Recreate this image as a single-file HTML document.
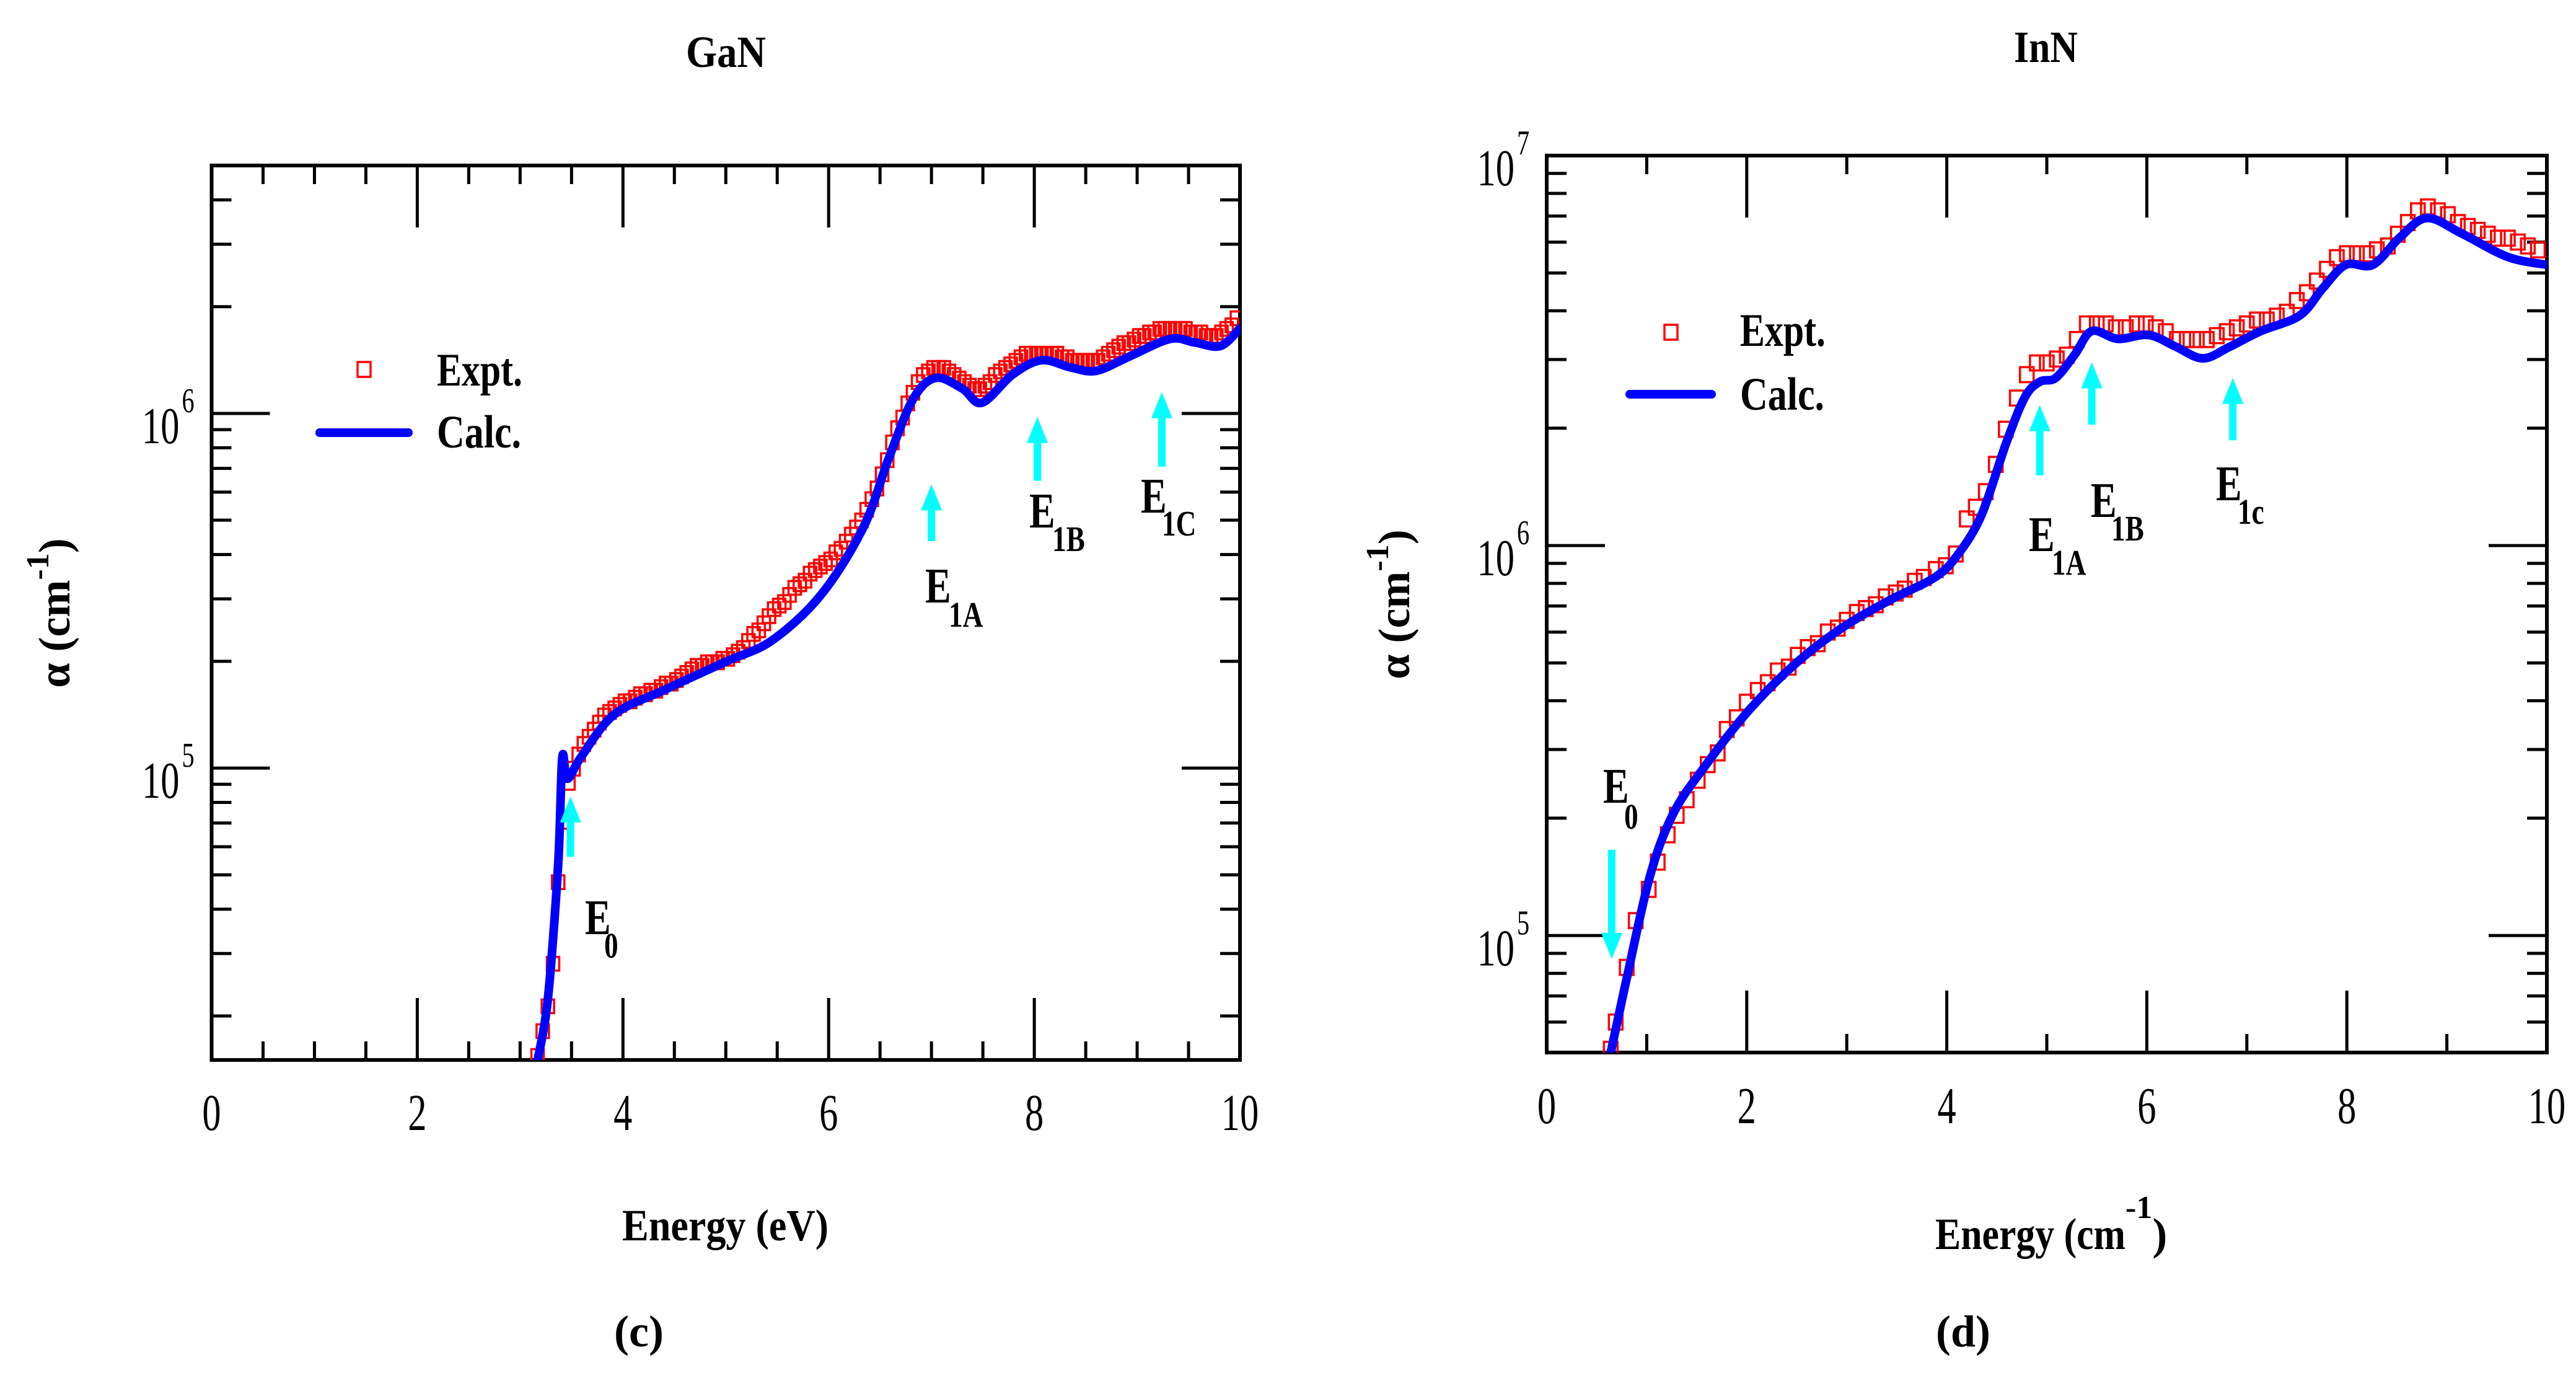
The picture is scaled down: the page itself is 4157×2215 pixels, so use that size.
<!DOCTYPE html>
<html><head><meta charset="utf-8"><style>
html,body{margin:0;padding:0;background:#fff;}
svg{display:block;}
text{font-family:"Liberation Serif",serif;}
</style></head><body>
<svg id="fig" width="4157" height="2215" viewBox="0 0 4157 2215" xmlns="http://www.w3.org/2000/svg">
<rect x="0" y="0" width="4157" height="2215" fill="#fff"/>
<defs>
<clipPath id="clipGaN"><rect x="341.5" y="267" width="1659.5" height="1443"/></clipPath>
<clipPath id="clipInN"><rect x="2496" y="251" width="1614" height="1447"/></clipPath>
</defs>
<g id="gan"></g>
<g id="inn"></g>
</svg>
<script>
// ---------- GaN data (x: eV, y: log10 alpha) ----------
const ganCalcX = [3.17,3.27,3.37,3.41,3.46,3.59,3.91,4.40,5.0,5.45,5.93,6.34,6.58,6.82,7.04,7.30,7.49,7.79,8.07,8.35,8.60,8.92,9.32,9.56,9.81,10.0];
const ganCalcY = [4.176,4.35,4.73,5.03,4.97,5.03,5.15,5.22,5.30,5.36,5.49,5.68,5.87,6.04,6.10,6.07,6.03,6.11,6.15,6.13,6.12,6.16,6.21,6.20,6.19,6.24];
const ganExpX = [3.17,3.22,3.27,3.32,3.37,3.42,3.47,3.52,3.57,3.62,3.67,3.72,3.77,3.82,3.87,3.92,3.97,4.02,4.07,4.12,4.17,4.22,4.27,4.32,4.37,4.42,4.47,4.52,4.57,4.62,4.67,4.72,4.77,4.82,4.87,4.92,4.97,5.02,5.07,5.12,5.17,5.22,5.27,5.32,5.37,5.42,5.47,5.52,5.57,5.62,5.67,5.72,5.77,5.82,5.87,5.92,5.97,6.02,6.07,6.12,6.17,6.22,6.27,6.32,6.37,6.42,6.47,6.52,6.57,6.62,6.67,6.72,6.77,6.82,6.87,6.92,6.97,7.02,7.07,7.12,7.17,7.22,7.27,7.32,7.37,7.42,7.47,7.52,7.57,7.62,7.67,7.72,7.77,7.82,7.87,7.92,7.97,8.02,8.07,8.12,8.17,8.22,8.27,8.32,8.37,8.42,8.47,8.52,8.57,8.62,8.67,8.72,8.77,8.82,8.87,8.92,8.97,9.02,9.07,9.12,9.17,9.22,9.27,9.32,9.37,9.42,9.47,9.52,9.57,9.62,9.67,9.72,9.77,9.82,9.87,9.92,9.97];
const ganExpY = [4.19,4.26,4.33,4.45,4.68,4.85,4.96,5.00,5.04,5.07,5.09,5.11,5.13,5.15,5.16,5.17,5.18,5.19,5.19,5.20,5.21,5.21,5.22,5.22,5.23,5.24,5.24,5.25,5.26,5.27,5.28,5.29,5.29,5.30,5.30,5.30,5.31,5.31,5.32,5.33,5.34,5.36,5.38,5.39,5.41,5.43,5.45,5.46,5.47,5.49,5.51,5.52,5.53,5.55,5.56,5.57,5.58,5.59,5.61,5.62,5.64,5.66,5.68,5.70,5.73,5.76,5.79,5.83,5.87,5.92,5.96,5.99,6.03,6.06,6.09,6.11,6.12,6.13,6.13,6.13,6.12,6.11,6.10,6.09,6.08,6.07,6.07,6.08,6.09,6.11,6.12,6.13,6.14,6.15,6.16,6.17,6.17,6.17,6.17,6.17,6.17,6.17,6.16,6.16,6.15,6.15,6.15,6.15,6.15,6.15,6.16,6.17,6.18,6.19,6.20,6.20,6.21,6.22,6.22,6.23,6.23,6.24,6.24,6.24,6.24,6.24,6.24,6.23,6.23,6.23,6.22,6.22,6.22,6.23,6.24,6.25,6.27];
// ---------- InN data ----------
const innCalcX = [0.64,0.80,1.03,1.26,1.57,2.03,2.50,2.96,3.43,3.89,4.12,4.35,4.59,4.78,4.93,5.09,5.28,5.45,5.71,6.02,6.29,6.56,6.83,7.14,7.53,7.76,7.99,8.26,8.53,8.80,9.15,9.61,10.0];
const innCalcY = [4.70,4.89,5.15,5.31,5.43,5.58,5.70,5.79,5.86,5.92,5.98,6.08,6.26,6.38,6.42,6.43,6.49,6.55,6.53,6.54,6.51,6.48,6.51,6.55,6.59,6.66,6.72,6.72,6.79,6.84,6.80,6.74,6.72];
const innExpX = [0.64,0.69,0.80,0.89,1.02,1.11,1.21,1.30,1.40,1.51,1.61,1.71,1.80,1.90,2.00,2.11,2.21,2.31,2.42,2.51,2.61,2.71,2.81,2.91,3.00,3.10,3.19,3.29,3.39,3.49,3.58,3.68,3.77,3.89,3.99,4.09,4.20,4.29,4.39,4.49,4.59,4.70,4.80,4.90,5.00,5.10,5.20,5.30,5.40,5.50,5.59,5.69,5.79,5.90,5.99,6.09,6.19,6.30,6.40,6.50,6.60,6.70,6.80,6.90,7.00,7.10,7.20,7.30,7.40,7.50,7.60,7.70,7.80,7.90,8.00,8.10,8.20,8.30,8.41,8.51,8.61,8.71,8.81,8.91,9.01,9.11,9.21,9.31,9.41,9.51,9.61,9.71,9.81,9.91];
const innExpY = [4.71,4.78,4.92,5.04,5.12,5.19,5.26,5.31,5.35,5.40,5.44,5.47,5.53,5.56,5.60,5.63,5.65,5.68,5.69,5.72,5.74,5.75,5.78,5.79,5.81,5.83,5.84,5.85,5.87,5.88,5.89,5.91,5.92,5.94,5.95,5.98,6.07,6.10,6.14,6.21,6.30,6.38,6.44,6.47,6.47,6.48,6.49,6.53,6.57,6.57,6.57,6.56,6.56,6.57,6.57,6.56,6.55,6.53,6.53,6.53,6.53,6.54,6.55,6.56,6.57,6.58,6.58,6.59,6.60,6.63,6.65,6.68,6.71,6.74,6.75,6.75,6.75,6.76,6.77,6.80,6.83,6.86,6.87,6.86,6.85,6.83,6.82,6.81,6.80,6.79,6.79,6.78,6.77,6.76];
// arrows: x position (eV) and tip/tail in log10 alpha
const ganArrowX = [3.49,7.0,8.03,9.24];
const ganArrowTip = [4.92,5.80,5.99,6.06];
const ganArrowTail = [4.75,5.64,5.81,5.85];
const ganArrowSubs = ['0','1A','1B','1C'];
const innArrowX = [0.65,4.93,5.45,6.86];
const innArrowTip = [4.94,6.36,6.47,6.43];
const innArrowTail = [5.22,6.18,6.31,6.27];
const innArrowSubs = ['0','1A','1B','1c'];

const NS = 'http://www.w3.org/2000/svg';
function mk(tag, attrs, parent){ const e=document.createElementNS(NS,tag); for(const k in attrs) e.setAttribute(k,attrs[k]); if(parent) parent.appendChild(e); return e; }

function makeAxes(cfg){
  const sx = v => cfg.x0 + (v-cfg.xmin)/(cfg.xmax-cfg.xmin)*(cfg.x1-cfg.x0);
  const sy = l => cfg.y1 - (l-cfg.lmin)/(cfg.lmax-cfg.lmin)*(cfg.y1-cfg.y0);
  return {sx, sy};
}

function smoothPath(P){
  let d = 'M'+P[0][0].toFixed(1)+','+P[0][1].toFixed(1);
  for(let i=0;i<P.length-1;i++){
    const p0=P[Math.max(0,i-1)], p1=P[i], p2=P[i+1], p3=P[Math.min(P.length-1,i+2)];
    const c1=[p1[0]+(p2[0]-p0[0])/6, p1[1]+(p2[1]-p0[1])/6];
    const c2=[p2[0]-(p3[0]-p1[0])/6, p2[1]-(p3[1]-p1[1])/6];
    d += 'C'+c1[0].toFixed(1)+','+c1[1].toFixed(1)+' '+c2[0].toFixed(1)+','+c2[1].toFixed(1)+' '+p2[0].toFixed(1)+','+p2[1].toFixed(1);
  }
  return d;
}

function drawPanel(g, cfg, calcX, calcY, expX, expY, arrX, arrTip, arrTail, subs, labels){
  const {sx, sy} = makeAxes(cfg);
  const frame = mk('rect',{x:cfg.x0,y:cfg.y0,width:cfg.x1-cfg.x0,height:cfg.y1-cfg.y0,fill:'none',stroke:'#000','stroke-width':6},g);
  
  
  for(let v=cfg.xmin; v<=cfg.xmax+1e-9; v+=cfg.minorStep){
    const isMaj = Math.abs(v/2-Math.round(v/2))<1e-6;
    const len = isMaj?100:30;
    const X = sx(v);
    if(v>cfg.xmin+1e-6 && v<cfg.xmax-1e-6){
      const t1 = mk('line',{x1:X,y1:cfg.y1,x2:X,y2:cfg.y1-len,stroke:'#000','stroke-width':5},g);
      
      
      const t2 = mk('line',{x1:X,y1:cfg.y0,x2:X,y2:cfg.y0+len,stroke:'#000','stroke-width':5},g);
      
      
    }
    if(isMaj){
      const tl = mk('text',{transform:`translate(${X},${cfg.xLabY}) scale(0.72,1)`,'text-anchor':'middle','font-size':84,fill:'#000'},g);
      tl.textContent = String(Math.round(v));
      
      
    }
  }
  for(let d=Math.floor(cfg.lmin); d<=Math.ceil(cfg.lmax); d++){
    for(let m=1; m<=9; m++){
      const l = d + Math.log10(m);
      if(l<cfg.lmin+1e-4 || l>cfg.lmax-1e-4) continue;
      const Y = sy(l);
      const len = m===1?94:32;
      const a = mk('line',{x1:cfg.x0,y1:Y,x2:cfg.x0+len,y2:Y,stroke:'#000','stroke-width':5},g);
      
      
      const b = mk('line',{x1:cfg.x1,y1:Y,x2:cfg.x1-len,y2:Y,stroke:'#000','stroke-width':5},g);
      
      
    }
  }
  for(let d=Math.ceil(cfg.lmin-1e-6); d<=Math.floor(cfg.lmax+1e-6); d++){
    const Y = sy(d);
    const t = mk('text',{transform:`translate(${cfg.x0-52},${Y+48}) scale(0.72,1)`,'text-anchor':'end','font-size':84,fill:'#000'},g);
    t.textContent='10';
    
    
    const s = mk('text',{transform:`translate(${cfg.x0-48},${Y-2}) scale(0.72,1)`,'text-anchor':'start','font-size':56,fill:'#000'},g);
    s.textContent=String(d);
    
    
  }
  const dg = mk('g',{'clip-path':`url(#${cfg.clip})`},g);
  const eg = mk('g',{},dg);
  
  
  for(let i=0;i<expX.length;i++){
    const r = mk('rect',{x:sx(expX[i])-cfg.sq/2,y:sy(expY[i])-cfg.sq/2,width:cfg.sq,height:cfg.sq*1.1,fill:'none',stroke:'#ff0000','stroke-width':3.5},eg);
    
    
  }
  const pts = calcX.map((x,i)=>[sx(x), sy(calcY[i])]);
  const cl = mk('path',{d:smoothPath(pts),fill:'none',stroke:'#0000ff','stroke-width':14,'stroke-linejoin':'round','stroke-linecap':'round'},dg);
  
  
  for(let i=0;i<arrX.length;i++){
    const X = sx(arrX[i]), tip = sy(arrTip[i]), tail = sy(arrTail[i]);
    const dir = tail>tip ? 1 : -1;
    const hb = tip + dir*42;
    const ag = mk('g',{},g);
    
    
    mk('line',{x1:X,y1:tail,x2:X,y2:hb,stroke:'#00ffff','stroke-width':12},ag);
    mk('polygon',{points:`${X},${tip} ${X-17},${hb} ${X+17},${hb}`,fill:'#00ffff'},ag);
  }
  labels.forEach((L,i)=>{
    const t = mk('text',{transform:`translate(${L[0]},${L[1]}) scale(0.78,1)`,'font-size':80,'font-weight':'bold',fill:'#000'},g);
    t.textContent='E';
    
    
    const s = mk('text',{transform:`translate(${L[2]},${L[3]}) scale(0.78,1)`,'font-size':58,'font-weight':'bold',fill:'#000'},g);
    s.textContent=subs[i];
    
    
  });
}

const gan = document.getElementById('gan');
drawPanel(gan,{x0:341.5,x1:2001,y0:267,y1:1710,xmin:0,xmax:10,lmin:4.177,lmax:6.699,minorStep:0.5,xLabY:1823,clip:'clipGaN',sq:20},
  ganCalcX,ganCalcY,ganExpX,ganExpY,ganArrowX,ganArrowTip,ganArrowTail,ganArrowSubs,
  [[944,1507,975,1545],[1493,972,1531,1011],[1661,851,1698,889],[1841,827,1875,864]]);
const inn = document.getElementById('inn');
drawPanel(inn,{x0:2496,x1:4110,y0:251,y1:1698,xmin:0,xmax:10,lmin:4.70,lmax:7.0,minorStep:1,xLabY:1812,clip:'clipInN',sq:22},
  innCalcX,innCalcY,innExpX,innExpY,innArrowX,innArrowTip,innArrowTail,innArrowSubs,
  [[2587,1295,2621,1337],[3274,889,3311,927],[3374,834,3407,872],[3576,807,3611,845]]);
</script>
<svg style="position:absolute;left:0;top:0" width="4157" height="2215" viewBox="0 0 4157 2215" xmlns="http://www.w3.org/2000/svg">
<text x="1107" y="108" font-size="72" font-weight="bold" textLength="129" lengthAdjust="spacingAndGlyphs">GaN</text>
<text x="3250" y="100" font-size="72" font-weight="bold" textLength="103" lengthAdjust="spacingAndGlyphs">InN</text>
<rect x="577" y="584" width="21" height="24" fill="none" stroke="#ff0000" stroke-width="3.5"/>
<text x="705" y="622" font-size="75" font-weight="bold" textLength="138" lengthAdjust="spacingAndGlyphs">Expt.</text>
<line x1="516" y1="698" x2="659" y2="698" stroke="#0000ff" stroke-width="14" stroke-linecap="round"/>
<text x="705" y="722" font-size="75" font-weight="bold" textLength="136" lengthAdjust="spacingAndGlyphs">Calc.</text>
<rect x="2686" y="524" width="21" height="24" fill="none" stroke="#ff0000" stroke-width="3.5"/>
<text x="2808" y="558" font-size="75" font-weight="bold" textLength="138" lengthAdjust="spacingAndGlyphs">Expt.</text>
<line x1="2630" y1="636" x2="2762" y2="636" stroke="#0000ff" stroke-width="14" stroke-linecap="round"/>
<text x="2808" y="661" font-size="75" font-weight="bold" textLength="136" lengthAdjust="spacingAndGlyphs">Calc.</text>
<text x="1004" y="2001" font-size="72" font-weight="bold" textLength="333" lengthAdjust="spacingAndGlyphs">Energy (eV)</text>
<text x="1031" y="2172" font-size="72" font-weight="bold" text-anchor="middle">(c)</text>
<text x="3123" y="2015" font-size="72" font-weight="bold"><tspan textLength="307" lengthAdjust="spacingAndGlyphs">Energy (cm</tspan><tspan font-size="52" dy="-50">-1</tspan><tspan dy="50">)</tspan></text>
<text x="3168" y="2172" font-size="72" font-weight="bold" text-anchor="middle">(d)</text>
<text transform="translate(112,989) rotate(-90)" font-size="72" font-weight="bold" text-anchor="middle">α (cm<tspan font-size="52" dy="-34">-1</tspan><tspan dy="34">)</tspan></text>
<text transform="translate(2274,975) rotate(-90)" font-size="72" font-weight="bold" text-anchor="middle">α (cm<tspan font-size="52" dy="-34">-1</tspan><tspan dy="34">)</tspan></text>
</svg>
</body></html>
